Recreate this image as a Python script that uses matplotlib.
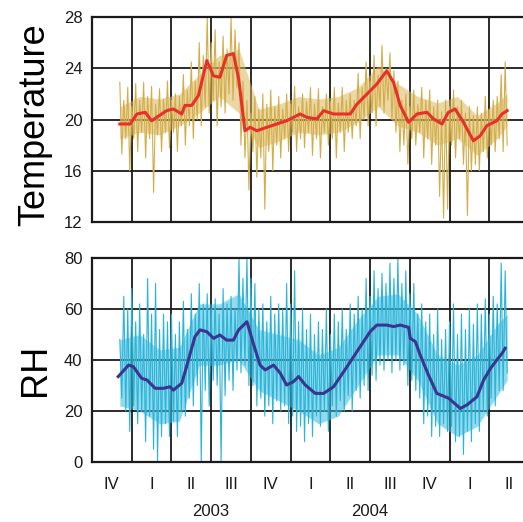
import numpy as np
import matplotlib
matplotlib.use("Agg")
import matplotlib.pyplot as plt
import matplotlib.transforms as mtransforms

plt.rcParams['font.family'] = ['Liberation Sans', 'DejaVu Sans']

# x is measured in grid intervals (quarters) from the left frame
quarter_labels = ['IV', 'I', 'II', 'III', 'IV', 'I', 'II', 'III', 'IV', 'I', 'II']
year_labels = ['2003', '2004']
year_pos = [3, 7]

# raw daily temperature, read as alternating spike tops / bottoms every 0.1 quarter from 0.7
temp_hi = [22.9, 21.5, 22.5,
           21.0, 22.8, 21.5, 22.9, 21.8, 22.6, 21.2, 22.4, 21.6, 23.0,
           21.5, 22.0, 21.8, 23.5, 22.3, 24.5, 23.0, 26.0, 25.0, 28.0,
           26.0, 27.0, 24.5, 26.5, 25.5, 28.0, 27.0, 26.0, 23.0, 21.5,
           20.5, 21.8, 20.8, 22.0, 21.2, 22.3, 21.0, 21.8, 20.8, 22.0,
           21.2, 22.6, 21.0, 22.0, 21.4, 22.5, 21.2, 22.4, 21.0, 22.0,
           21.4, 22.5, 21.3, 22.5, 21.5, 22.0, 21.5, 23.6, 22.5, 24.5,
           23.0, 25.0, 23.5, 25.8, 24.0, 25.2, 23.8, 23.0, 21.5, 22.0,
           21.0, 22.3, 21.2, 22.5, 21.5, 22.3, 21.0, 21.5, 20.6, 21.5,
           21.0, 22.3, 21.0, 21.5, 20.5, 21.0, 20.3, 21.0, 20.5, 21.8,
           20.8, 21.5, 21.8, 23.5, 24.5]
temp_lo = [17.3, 18.5, 16.0,
           18.5, 17.5, 19.0, 17.0, 18.5, 14.3, 18.8, 17.5, 19.0, 17.8,
           19.0, 17.5, 19.5, 18.0, 19.5, 18.5, 20.0, 19.5, 21.0, 20.5,
           21.5, 19.5, 21.0, 20.5, 22.0, 21.5, 22.5, 18.0, 17.0, 14.5,
           17.5, 15.5, 17.0, 13.0, 17.5, 16.0, 18.0, 17.0, 18.5, 17.5,
           19.0, 17.5, 18.5, 17.8, 19.0, 17.2, 18.5, 17.0, 19.0, 18.0,
           18.5, 17.0, 19.0, 17.5, 19.0, 18.5, 19.5, 18.5, 20.0, 19.5,
           20.5, 19.5, 21.0, 20.5, 21.5, 20.0, 19.0, 17.5, 18.0, 16.5,
           18.5, 18.0, 19.0, 17.0, 18.5, 16.5, 18.0, 14.0, 12.3, 13.0,
           18.0, 17.0, 18.5, 16.5, 12.5, 16.0, 16.5, 16.0, 17.5, 17.0,
           18.0, 17.5, 18.5, 17.5, 18.0]

# dense core of the daily temperature band, every half quarter
core_x = [0.7, 1.2, 1.7, 2.2, 2.7, 3.2, 3.7, 4.2, 4.7, 5.2, 5.7,
          6.2, 6.7, 7.2, 7.7, 8.2, 8.7, 9.2, 9.7, 10.2, 10.45]
temp_core_hi = [21.0, 21.8, 21.6, 22.0, 23.5, 25.0, 25.5, 20.8, 21.2, 21.8, 21.6,
                21.8, 22.5, 24.2, 22.8, 21.8, 21.3, 21.8, 20.3, 21.3, 22.0]
temp_core_lo = [18.5, 19.0, 18.8, 19.5, 20.5, 21.8, 20.5, 17.8, 18.3, 19.0, 18.8,
                19.0, 19.8, 21.0, 19.5, 19.0, 18.0, 18.5, 17.2, 18.5, 19.5]

# smoothed temperature
temp_smooth_x = [0.70, 0.96, 1.13, 1.34, 1.50, 1.63, 1.88, 2.05, 2.26, 2.34, 2.51,
                 2.68, 2.89, 3.06, 3.22, 3.39, 3.56, 3.69, 3.85, 3.98, 4.15, 4.40,
                 4.65, 4.90, 5.24, 5.41, 5.66, 5.83, 6.08, 6.50, 6.67, 6.92, 7.17,
                 7.42, 7.59, 7.76, 7.97, 8.18, 8.43, 8.60, 8.81, 8.97, 9.14, 9.35,
                 9.60, 9.77, 9.94, 10.19, 10.32, 10.45]
temp_smooth = [19.65, 19.65, 20.43, 20.56, 19.9, 20.17, 20.69, 20.82, 20.43, 21.1, 21.1,
               21.87, 24.6, 23.4, 23.3, 25.0, 25.14, 23.2, 19.12, 19.39, 19.12, 19.39,
               19.65, 19.9, 20.43, 20.17, 20.04, 20.69, 20.43, 20.43, 21.2, 21.98, 22.77,
               23.8, 22.9, 21.08, 19.78, 20.43, 20.56, 20.04, 19.65, 20.56, 20.82, 19.78,
               18.34, 18.73, 19.52, 19.9, 20.43, 20.69]

# raw daily RH, same layout as temperature
rh_hi = [48, 65, 60,
         68, 55, 62, 50, 72, 58, 70, 52, 58, 55,
         58, 50, 55, 63, 52, 66, 58, 70, 62, 66,
         60, 64, 58, 68, 62, 65, 60, 80, 72, 80,
         72, 70, 60, 62, 55, 65, 58, 62, 60, 70,
         62, 75, 55, 60, 52, 58, 50, 55, 52, 60,
         50, 58, 55, 60, 52, 62, 58, 65, 60, 72,
         65, 75, 68, 74, 70, 78, 72, 80, 70, 75,
         66, 70, 58, 62, 55, 58, 50, 60, 48, 52,
         55, 62, 50, 58, 52, 60, 54, 62, 58, 64,
         58, 65, 62, 78, 75]
rh_lo = [25, 20, 12,
         22, 15, 20, 8, 18, 5, 0, 10, 15, 10,
         16, 10, 20, 18, 25, 22, 30, 0, 28, 22,
         32, 30, 0, 26, 32, 28, 36, 35, 38, 30,
         30, 22, 25, 18, 22, 15, 24, 20, 22, 15,
         18, 12, 14, 8, 15, 10, 18, 14, 20, 12,
         22, 18, 24, 20, 26, 20, 28, 25, 30, 28,
         34, 32, 38, 36, 40, 35, 40, 36, 38, 30,
         32, 28, 25, 15, 18, 10, 14, 10, 15, 12,
         14, 8, 10, 3, 12, 8, 15, 12, 20, 18,
         25, 22, 28, 28, 35]

rh_core_hi = [48, 50, 44, 45, 62, 62, 66, 52, 50, 48, 42,
              45, 56, 65, 66, 58, 42, 38, 42, 54, 58]
rh_core_lo = [22, 20, 15, 16, 38, 38, 40, 28, 24, 20, 15,
              18, 30, 42, 42, 32, 15, 10, 14, 26, 32]

rh_smooth_x = [0.66, 0.92, 1.04, 1.25, 1.38, 1.59, 1.80, 1.96, 2.05, 2.26, 2.38,
               2.59, 2.72, 2.89, 3.06, 3.22, 3.39, 3.56, 3.69, 3.90, 4.06, 4.23,
               4.36, 4.57, 4.74, 4.90, 5.07, 5.20, 5.37, 5.62, 5.83, 6.08, 6.42,
               6.75, 7.00, 7.17, 7.42, 7.59, 7.76, 7.97, 8.01, 8.14, 8.26, 8.47,
               8.68, 8.98, 9.27, 9.44, 9.69, 9.86, 10.03, 10.19, 10.32, 10.40]
rh_smooth = [33.5, 38.0, 37.4, 32.8, 32.2, 28.9, 28.9, 29.5, 28.2, 30.9, 37.4,
             49.1, 51.8, 51.1, 48.5, 49.8, 47.8, 47.8, 51.8, 55.0, 46.5, 38.0,
             36.1, 38.0, 34.8, 30.2, 31.5, 33.5, 30.2, 26.9, 26.9, 29.5, 37.4,
             45.2, 51.1, 53.7, 53.7, 53.1, 53.7, 52.8, 48.5, 47.2, 42.0, 34.1,
             26.9, 25.0, 21.0, 22.4, 25.6, 32.2, 36.7, 40.0, 42.6, 44.6]


def zigzag(hi, lo, start=0.7, step=0.1):
    # interleave spike tops and bottoms so the line looks like daily noise
    xs, ys = [], []
    for i, (h, l) in enumerate(zip(hi, lo)):
        xs += [start + i * step, start + i * step + step / 2]
        ys += [h, l]
    return xs, ys


fig = plt.figure(figsize=(5.23, 5.22), dpi=100)
W, H = 523, 522
left = 92 / W
width = (529 - 92) / W
ax1 = fig.add_axes([left, 1 - 222 / H, width, (222 - 17) / H])
ax2 = fig.add_axes([left, 1 - 462 / H, width, (462 - 258) / H])

tx, ty = zigzag(temp_hi, temp_lo)
ax1.fill_between(core_x, temp_core_lo, temp_core_hi, color='#d9b75a', alpha=0.55,
                 lw=0, zorder=2)
ax1.plot(tx, ty, color='#d2ad4a', lw=0.8, zorder=2)
ax1.plot(temp_smooth_x, temp_smooth, color='#e8302a', lw=2.2, zorder=3)
ax1.set_ylim(12, 28)
ax1.set_yticks([12, 16, 20, 24, 28])

rx, ry = zigzag(rh_hi, rh_lo)
ax2.fill_between(core_x, rh_core_lo, rh_core_hi, color='#3dbbdd', alpha=0.55,
                 lw=0, zorder=2)
ax2.plot(rx, ry, color='#2ab4d9', lw=0.8, zorder=2)
ax2.plot(rh_smooth_x, rh_smooth, color='#3b3490', lw=2.2, zorder=3)
ax2.set_ylim(0, 80)
ax2.set_yticks([0, 20, 40, 60, 80])

for ax in (ax1, ax2):
    ax.set_xlim(0, 11)
    ax.set_xticks(range(0, 12))
    ax.set_xticklabels([])
    ax.grid(True, color='#1a1a1a', lw=1.3, zorder=1)
    ax.set_axisbelow(True)
    ax.tick_params(length=0, labelsize=12, pad=7, colors='#1a1a1a')
    for s in ax.spines.values():
        s.set_color('#1a1a1a')
        s.set_linewidth(1.6)

ax2.set_xticks(np.arange(0.5, 11, 1), minor=True)
ax2.set_xticklabels(quarter_labels, minor=True)
ax2.tick_params(axis='x', which='minor', length=0, labelsize=12, pad=11, colors='#1a1a1a')

trans = mtransforms.blended_transform_factory(ax2.transData, ax2.transAxes)
for yl, xp in zip(year_labels, year_pos):
    ax2.text(xp, -0.245, yl, transform=trans, ha='center', va='center',
             fontsize=12, color='#1a1a1a')

fig.text(35 / W, 1 - 125 / H, 'Temperature', rotation=90, ha='center', va='center',
         fontsize=26, color='black')
fig.text(35 / W, 1 - 370 / H, 'RH', rotation=90, ha='center', va='center',
         fontsize=26, color='black')

fig.savefig('out.png', dpi=100)
